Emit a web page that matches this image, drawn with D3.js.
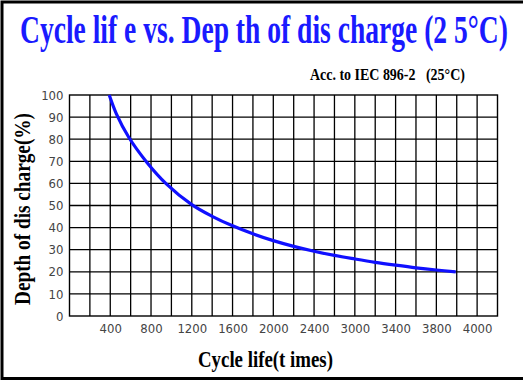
<!DOCTYPE html>
<html>
<head>
<meta charset="utf-8">
<script src="https://cdn.jsdelivr.net/npm/d3@7"></script>
<style>
  body { margin: 0; background: #fff; }
  svg { display: block; }
</style>
</head>
<body>
<div id="viz"></div>
<script>
// curve (nominal cycles, depth of discharge %)
const cycles = [390, 460, 580, 760, 950, 1200, 1400, 1600, 1800, 2000, 2200, 2400, 2600, 2800, 3000, 3200, 3400, 3600, 3790];
const depth = [100, 91.5, 81, 69.5, 59.8, 50.4, 45.1, 40.8, 37.2, 34.1, 31.5, 29.3, 27.4, 25.8, 24.3, 23.0, 21.8, 20.8, 20.0];

const xTickValues = [400, 800, 1200, 1600, 2000, 2400, 2800, 3200, 3600, 4000];
const xTickLabels = ["400", "800", "1200", "1600", "2000", "2400", "3000", "3400", "3800", "4000"];
const yTickValues = [0, 10, 20, 30, 40, 50, 60, 70, 80, 90, 100];

const config = {
  width: 523,
  height: 380,
  left: 69.5,
  right: 497.5,
  top: 95,
  bottom: 316,
  xMax: 4200,
  gridStep: 200,
  serif: "'Liberation Serif', 'Times New Roman', serif",
  narrow: "'Liberation Sans Narrow', 'DejaVu Sans Condensed', 'Liberation Sans', sans-serif",
};

const svg = d3
  .select("#viz")
  .append("svg")
  .attr("width", config.width)
  .attr("height", config.height);

// squeeze a text horizontally so it spans `width` px
const fitText = (sel, x, y, width, rotate) => {
  const natural = sel.node().getComputedTextLength();
  const sx = width / natural;
  sel.attr(
    "transform",
    `translate(${x},${y})${rotate ? " rotate(-90)" : ""} scale(${sx},1)`
  );
};

// outer frame (right edge falls off the picture)
svg
  .append("rect")
  .attr("x", 2)
  .attr("y", 2)
  .attr("width", 540)
  .attr("height", 376.5)
  .attr("fill", "none")
  .attr("stroke", "#000")
  .attr("stroke-width", 3);

const x = d3.scaleLinear().domain([0, config.xMax]).range([config.left, config.right]);
const y = d3.scaleLinear().domain([0, 100]).range([config.bottom, config.top]);

// grid
const gridX = d3.range(config.gridStep, config.xMax, config.gridStep);
svg
  .append("g")
  .selectAll("line")
  .data(gridX)
  .join("line")
  .attr("x1", (d) => x(d))
  .attr("x2", (d) => x(d))
  .attr("y1", config.top)
  .attr("y2", config.bottom)
  .attr("stroke", "#000")
  .attr("stroke-width", 1.3);

svg
  .append("g")
  .selectAll("line")
  .data(yTickValues.slice(1, -1))
  .join("line")
  .attr("x1", config.left)
  .attr("x2", config.right)
  .attr("y1", (d) => y(d))
  .attr("y2", (d) => y(d))
  .attr("stroke", "#000")
  .attr("stroke-width", 1.3);

svg
  .append("rect")
  .attr("x", config.left)
  .attr("y", config.top)
  .attr("width", config.right - config.left)
  .attr("height", config.bottom - config.top)
  .attr("fill", "none")
  .attr("stroke", "#000")
  .attr("stroke-width", 1.4);

// axes (labels only, the frame is drawn above)
const xAxis = svg
  .append("g")
  .attr("transform", `translate(0,${config.bottom + 5})`)
  .call(
    d3.axisBottom(x)
      .tickValues(xTickValues)
      .tickSize(0)
      .tickFormat((d, i) => xTickLabels[i])
  );

const yAxis = svg
  .append("g")
  .attr("transform", `translate(${config.left - 3},0)`)
  .call(d3.axisLeft(y).tickValues(yTickValues).tickSize(0));

[xAxis, yAxis].forEach((g) => {
  g.select(".domain").remove();
  g.selectAll("text")
    .attr("font-family", config.narrow)
    .attr("font-size", 13)
    .attr("fill", "#444");
});

// curve
const line = d3
  .line()
  .x((d, i) => x(cycles[i]))
  .y((d) => y(d))
  .curve(d3.curveCatmullRom.alpha(0.5));

svg
  .append("path")
  .datum(depth)
  .attr("d", line)
  .attr("fill", "none")
  .attr("stroke", "#1010ff")
  .attr("stroke-width", 3.2)
  .attr("stroke-linecap", "butt");

// titles
const title = svg
  .append("text")
  .attr("font-family", config.serif)
  .attr("font-weight", "bold")
  .attr("font-size", 39)
  .attr("fill", "#1a1aff")
  .text("Cycle lif e vs. Dep th of dis charge (2 5°C)");
fitText(title, 20, 43, 488);

const subtitle = svg
  .append("text")
  .attr("font-family", config.serif)
  .attr("font-weight", "bold")
  .attr("font-size", 17)
  .attr("fill", "#000")
  .style("white-space", "pre")
  .text("Acc. to IEC 896-2   (25°C)");
fitText(subtitle, 310, 80, 155);

const yLabel = svg
  .append("text")
  .attr("text-anchor", "middle")
  .attr("font-family", config.serif)
  .attr("font-weight", "bold")
  .attr("font-size", 24)
  .attr("fill", "#000")
  .text("Depth of dis charge(%)");
fitText(yLabel, 30, 209, 192, true);

const xLabel = svg
  .append("text")
  .attr("font-family", config.serif)
  .attr("font-weight", "bold")
  .attr("font-size", 23)
  .attr("fill", "#000")
  .style("white-space", "pre")
  .text("Cycle life(t imes)");
fitText(xLabel, 198, 367, 135);
</script>
</body>
</html>
